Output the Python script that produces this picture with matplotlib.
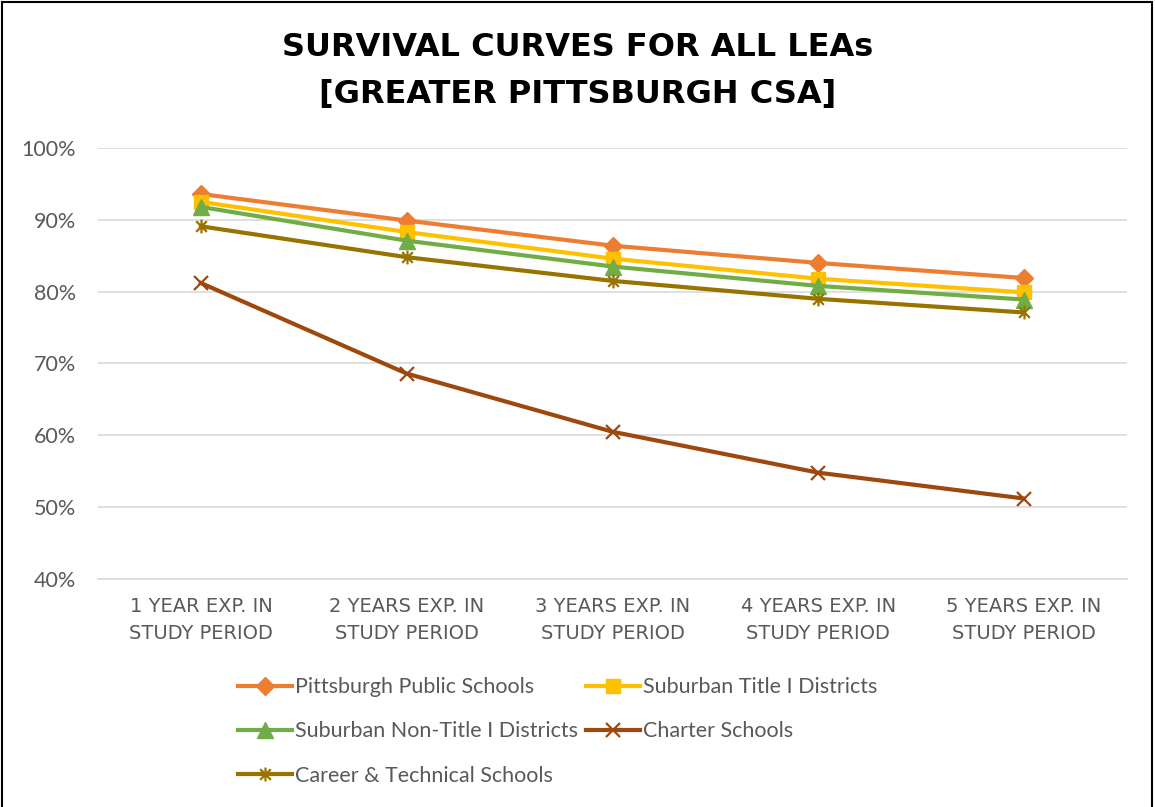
import matplotlib.pyplot as plt
from matplotlib.path import Path
from matplotlib.patches import Rectangle

categories = ["1 YEAR EXP. IN\nSTUDY PERIOD", "2 YEARS EXP. IN\nSTUDY PERIOD",
              "3 YEARS EXP. IN\nSTUDY PERIOD", "4 YEARS EXP. IN\nSTUDY PERIOD",
              "5 YEARS EXP. IN\nSTUDY PERIOD"]
pittsburgh = [93.6, 89.9, 86.4, 84.0, 81.9]
title_one = [92.5, 88.3, 84.6, 81.8, 79.9]
non_title_one = [91.8, 87.1, 83.5, 80.8, 78.9]
charter = [81.2, 68.6, 60.5, 54.8, 51.2]
career = [89.1, 84.8, 81.5, 79.0, 77.1]
yticks = [40, 50, 60, 70, 80, 90, 100]

def main():
    plt.rcParams["font.family"] = ["Lato", "DejaVu Sans"]
    fig = plt.figure(figsize=(11.55, 8.07), dpi=100)
    ax = fig.add_axes([98 / 1155, 1 - 579 / 807, (1127 - 98) / 1155, (579 - 148) / 807])

    star = Path([(-1, -1), (1, 1), (-1, 1), (1, -1), (0, -1.3), (0, 1.3)],
                [Path.MOVETO, Path.LINETO, Path.MOVETO, Path.LINETO, Path.MOVETO, Path.LINETO])

    x = range(len(categories))
    lw = 3
    h1, = ax.plot(x, pittsburgh, color="#ED7D31", lw=lw, marker="D", ms=9, label="Pittsburgh Public Schools")
    h2, = ax.plot(x, title_one, color="#FFC000", lw=lw, marker="s", ms=10, label="Suburban Title I Districts")
    h3, = ax.plot(x, non_title_one, color="#70AD47", lw=lw, marker="^", ms=11, label="Suburban Non-Title I Districts")
    h4, = ax.plot(x, charter, color="#9E480E", lw=lw, marker="x", ms=10, mew=1.6, label="Charter Schools")
    h5, = ax.plot(x, career, color="#997300", lw=lw, marker=star, ms=10, mew=1.6, label="Career & Technical Schools")

    ax.set_xlim(-0.5, 4.5)
    ax.set_ylim(40, 100)
    ax.set_yticks(yticks)
    ax.set_yticklabels([f"{v}%" for v in yticks], fontsize=15.5, color="#595959")
    ax.set_xticks(list(x))
    ax.set_xticklabels(categories, fontsize=14, color="#595959", linespacing=1.5)
    for t in ax.get_xticklabels():
        t.set_fontfamily("DejaVu Sans")
    ax.grid(axis="y", color="#D9D9D9", lw=1.2)
    ax.set_axisbelow(True)
    for s in ["top", "right", "left"]:
        ax.spines[s].set_visible(False)
    ax.spines["bottom"].set_color("#D9D9D9")
    ax.spines["bottom"].set_linewidth(1.2)
    ax.tick_params(axis="y", length=0, pad=16)
    ax.tick_params(axis="x", length=0, pad=13)

    for ypix, txt in [(48, "SURVIVAL CURVES FOR ALL LEAs"), (95, "[GREATER PITTSBURGH CSA]")]:
        fig.text(0.5, 1 - ypix / 807, txt, ha="center", va="center",
                 fontsize=23, fontweight="bold", color="black", family=["DejaVu Sans"])

    fig.legend([h1, h3, h5, h2, h4],
               [h.get_label() for h in [h1, h3, h5, h2, h4]],
               ncol=2, loc="upper left", bbox_to_anchor=(219 / 1155, 1 - 658 / 807),
               frameon=False, fontsize=15.5, labelcolor="#595959", handlelength=2.5,
               handletextpad=0.15, columnspacing=0.35, labelspacing=1.12)

    fig.patches.append(Rectangle((2 / 1155, -0.05), 1150 / 1155, 1.05 - 2 / 807,
                                 transform=fig.transFigure, fill=False, edgecolor="black", lw=1.5))

    fig.savefig("out.png", dpi=100)
    plt.close(fig)

if __name__ == "__main__":
    main()
